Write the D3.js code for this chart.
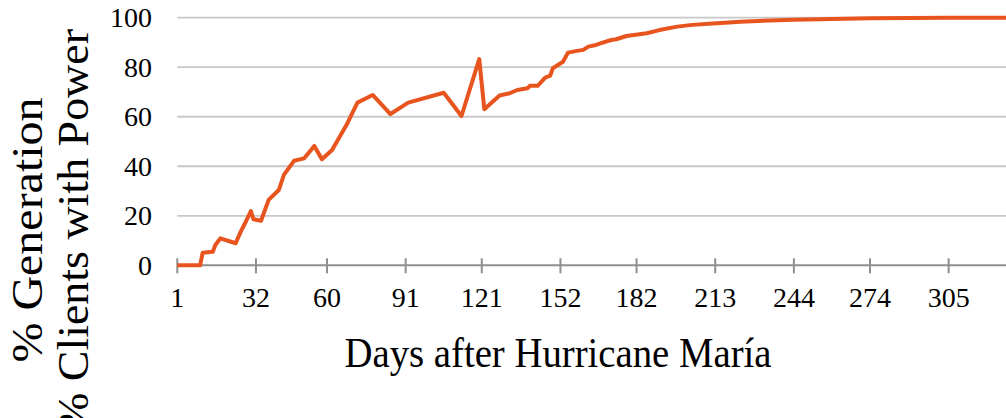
<!DOCTYPE html>
<html>
<head>
<meta charset="utf-8">
<script src="https://cdn.jsdelivr.net/npm/d3@7"></script>
<style>
    body { margin: 0; background: #fff; }
    text { font-family: "Liberation Serif", "Times New Roman", serif; fill: #000; }
</style>
</head>
<body>
<svg class="chart" width="1006" height="418"></svg>
<script>
const days = [1, 10, 11, 15, 16, 18, 24, 26, 28, 30, 31, 34, 37, 41, 43, 47, 51, 55, 58, 62,
    68, 72, 78, 85, 92, 106, 113, 120, 122, 128, 132, 135, 139, 140, 143, 146, 148, 149, 153,
    155, 158, 161, 163, 166, 168, 172, 174, 178, 181, 186, 191, 198, 204, 212, 223, 244, 274, 305, 328];
const pctPower = [0, 0, 5.1, 5.5, 8.2, 10.9, 8.9, 13.6, 17.6, 21.9, 18.6, 18.0, 26.4, 30.4, 36.5, 42.2, 43.2, 48.2, 42.8, 46.6,
    57.3, 65.7, 68.8, 61.1, 65.7, 69.7, 60.3, 83.3, 63.0, 68.6, 69.5, 70.8, 71.5, 72.5, 72.5, 75.8, 76.6, 79.6, 82.2,
    85.9, 86.5, 87.0, 88.3, 89.0, 89.7, 91.0, 91.3, 92.6, 93.0, 93.7, 95.0, 96.4, 97.1, 97.7, 98.4, 99.2, 99.8, 100, 100];
const xTicks = [1, 32, 60, 91, 121, 152, 182, 213, 244, 274, 305];
const yTicks = [0, 20, 40, 60, 80, 100];

const chart = d3.select('.chart');
const data = days.map((d, i) => ({ day: d, value: pctPower[i] }));

const xScale = d3.scaleLinear()
    .domain([1, 327.6])
    .range([177.3, 1006]);
const yScale = d3.scaleLinear()
    .domain([0, 100])
    .range([265.3, 17.7]);

// gridlines
chart.append('g').selectAll('line').data(yTicks.slice(1))
    .enter().append('line')
    .attr('x1', xScale(1))
    .attr('x2', 1006)
    .attr('y1', d => yScale(d))
    .attr('y2', d => yScale(d))
    .attr('stroke', '#c8c8c8')
    .attr('stroke-width', 1.8);

// y labels
chart.append('g').selectAll('text').data(yTicks)
    .enter().append('text')
    .attr('x', 152)
    .attr('y', d => yScale(d))
    .attr('dy', '0.34em')
    .attr('text-anchor', 'end')
    .style('font-size', '28px')
    .text(d => d);

// x axis
const xAxis = chart.append('g')
    .attr('transform', `translate(0,${yScale(0)})`);
xAxis.append('line')
    .attr('x1', xScale(1))
    .attr('x2', 1006)
    .attr('stroke', '#8f8f8f')
    .attr('stroke-width', 2);
xAxis.selectAll('.tick').data(xTicks)
    .enter().append('line')
    .attr('class', 'tick')
    .attr('x1', d => xScale(d))
    .attr('x2', d => xScale(d))
    .attr('y1', -7)
    .attr('y2', 8)
    .attr('stroke', '#8f8f8f')
    .attr('stroke-width', 2);
xAxis.selectAll('.lbl').data(xTicks)
    .enter().append('text')
    .attr('class', 'lbl')
    .attr('x', d => xScale(d))
    .attr('y', 42)
    .attr('text-anchor', 'middle')
    .style('font-size', '28px')
    .text(d => d);

const line = d3.line()
    .x(d => xScale(d.day))
    .y(d => yScale(d.value));

chart.append('path')
    .datum(data)
    .attr('d', line)
    .attr('fill', 'none')
    .attr('stroke', '#e8541e')
    .attr('stroke-width', 4)
    .attr('stroke-linejoin', 'round');

// axis titles
chart.append('text')
    .attr('x', 558)
    .attr('y', 367)
    .attr('text-anchor', 'middle')
    .attr('textLength', 427)
    .attr('lengthAdjust', 'spacingAndGlyphs')
    .style('font-size', '43px')
    .text('Days after Hurricane María');

const yTitle = chart.append('g')
    .attr('transform', 'translate(0,230) rotate(-90)');
yTitle.append('text')
    .attr('x', 0)
    .attr('y', 42)
    .attr('text-anchor', 'middle')
    .attr('textLength', 265)
    .attr('lengthAdjust', 'spacingAndGlyphs')
    .style('font-size', '44px')
    .text('% Generation');
yTitle.append('text')
    .attr('x', 0)
    .attr('y', 88)
    .attr('text-anchor', 'middle')
    .attr('textLength', 402)
    .attr('lengthAdjust', 'spacingAndGlyphs')
    .style('font-size', '44px')
    .text('% Clients with Power');
</script>
</body>
</html>
